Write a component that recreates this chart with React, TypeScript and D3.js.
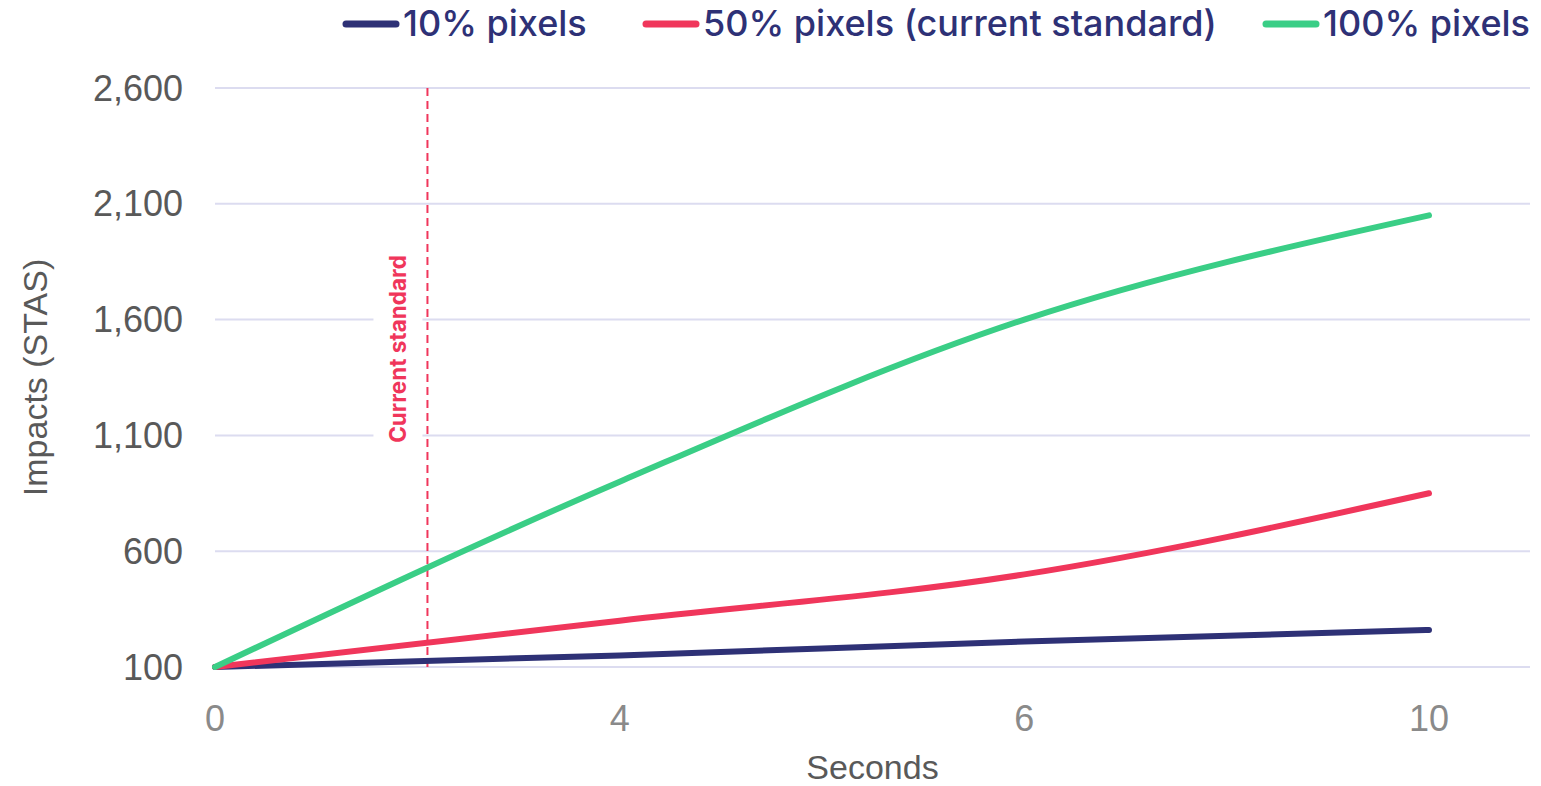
import React from "react";
import * as d3 from "d3";

const categories = ["0", "4", "6", "10"];
const xValues = [0, 4, 6, 10];
const yTicks = [100, 600, 1100, 1600, 2100, 2600];
const seriesNames = ["10% pixels", "50% pixels (current standard)", "100% pixels"];
const seriesColors = ["#2e3176", "#f0365b", "#3ace86"];
const pixels10 = [100, 150, 210, 260];
const pixels50 = [100, 300, 500, 850];
const pixels100 = [100, 900, 1600, 2050];
const seriesValues = [pixels10, pixels50, pixels100];
const currentStandardX = 2.1;
const currentStandardLabel = "Current standard";
const xTitle = "Seconds";
const yTitle = "Impacts (STAS)";

const W = 1541;
const H = 786;
const plotLeft = 215;
const plotRight = 1530;
const pointRight = 1429;
const plotTop = 88;
const plotBottom = 667;

export default function App() {
  const x = d3
    .scaleLinear()
    .domain(xValues)
    .range(xValues.map((_, i) => plotLeft + (i * (pointRight - plotLeft)) / (xValues.length - 1)));
  const y = d3.scaleLinear().domain([100, 2600]).range([plotBottom, plotTop]);
  const line = d3
    .line<number>()
    .x((_, i) => x(xValues[i]))
    .y((d) => y(d))
    .curve(d3.curveMonotoneX);

  const legendX = [342, 642, 1262];
  const sx = x(currentStandardX);
  const labelCx = sx - 29;
  const labelCy = 349;

  return (
    <svg
      width={W}
      height={H}
      style={{ display: "block", position: "absolute", left: 0, top: 0 }}
    >
      <rect width={W} height={H} fill="#fff" />
      {yTicks.map((t) => (
        <g key={t}>
          <line x1={plotLeft} x2={plotRight} y1={y(t)} y2={y(t)} stroke="#dcdcf0" strokeWidth={2} />
          <text
            x={183}
            y={y(t)}
            dy="0.35em"
            textAnchor="end"
            fontFamily="Liberation Sans, Arial, sans-serif"
            fontSize={36}
            fill="#595959"
          >
            {d3.format(",")(t)}
          </text>
        </g>
      ))}
      {categories.map((c, i) => (
        <text
          key={c}
          x={x(xValues[i])}
          y={718}
          dy="0.35em"
          textAnchor="middle"
          fontFamily="Liberation Sans, Arial, sans-serif"
          fontSize={36}
          fill="#8a8a8a"
        >
          {c}
        </text>
      ))}
      <text
        x={(plotLeft + plotRight) / 2}
        y={767}
        dy="0.35em"
        textAnchor="middle"
        fontFamily="Liberation Sans, Arial, sans-serif"
        fontSize={34}
        fill="#595959"
      >
        {xTitle}
      </text>
      <text
        transform={`translate(35, ${(plotTop + plotBottom) / 2}) rotate(-90)`}
        dy="0.35em"
        textAnchor="middle"
        fontFamily="Liberation Sans, Arial, sans-serif"
        fontSize={34}
        fill="#595959"
      >
        {yTitle}
      </text>
      {/* annotation */}
      <rect x={labelCx - 25} y={labelCy - 104} width={49} height={208} fill="#fff" />
      <line
        x1={sx}
        x2={sx}
        y1={plotTop}
        y2={plotBottom}
        stroke="#f0365b"
        strokeWidth={2}
        strokeDasharray="8,5"
      />
      <text
        transform={`translate(${labelCx}, ${labelCy}) rotate(-90)`}
        dy="0.35em"
        textAnchor="middle"
        fontFamily="Inter, Liberation Sans, sans-serif"
        fontWeight={700}
        fontSize={22.5}
        fill="#f0365b"
      >
        {currentStandardLabel}
      </text>
      {seriesValues.map((vals, si) => (
        <path
          key={si}
          d={line(vals) || ""}
          fill="none"
          stroke={seriesColors[si]}
          strokeWidth={6}
          strokeLinecap="round"
          strokeLinejoin="round"
        />
      ))}
      {seriesNames.map((n, i) => (
        <g key={n}>
          <line
            x1={legendX[i] + 4}
            x2={legendX[i] + 54}
            y1={24}
            y2={24}
            stroke={seriesColors[i]}
            strokeWidth={7}
            strokeLinecap="round"
          />
          <text
            x={legendX[i] + 61}
            y={23}
            dy="0.35em"
            fontFamily="Inter, sans-serif"
            fontWeight={500}
            fontSize={36}
            fill="#2e3176"
          >
            {n}
          </text>
        </g>
      ))}
    </svg>
  );
}
